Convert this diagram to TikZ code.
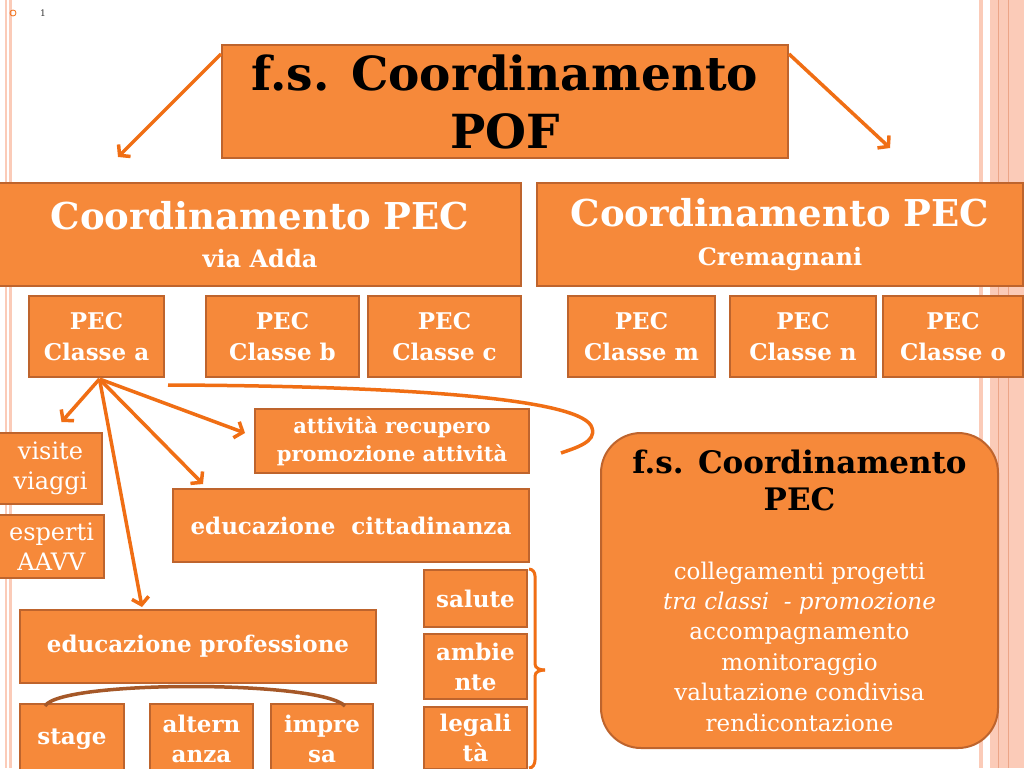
\documentclass[tikz,border=0pt]{standalone}
\usepackage{fontspec}
\setmainfont{DejaVu Serif}
\usetikzlibrary{arrows.meta,calc}
\definecolor{boxfill}{RGB}{246,137,58}
\definecolor{boxline}{RGB}{190,100,45}
\definecolor{arrc}{RGB}{240,110,20}
\definecolor{brownc}{RGB}{165,88,40}
\definecolor{salmon}{RGB}{251,203,184}
\definecolor{salmondk}{RGB}{236,165,135}
\tikzset{
  box/.style={draw=boxline, fill=boxfill, line width=2pt, inner sep=0pt, align=center, text=white, anchor=north west},
  arr/.style={draw=arrc, line width=3.5pt, -{Straight Barb[length=7pt,width=17pt]}},
  curv/.style={draw=arrc, line width=3.5pt},
  brownarc/.style={draw=brownc, line width=3.5pt},
  pecT/.style={font=\bfseries\fontsize{23}{31}\selectfont},
  attB/.style={font=\bfseries\fontsize{21}{28}\selectfont},
  midB/.style={font=\bfseries\fontsize{23}{30}\selectfont},
  midR/.style={font=\fontsize{24}{30}\selectfont},
}
\begin{document}
\begin{tikzpicture}[x=1pt,y=-1pt]
\useasboundingbox (0,0) rectangle (1024,768);
\fill[white] (0,0) rectangle (1024,768);
% decorative stripes
\fill[salmon] (5,0) rectangle (7,768);
\fill[salmon] (9,0) rectangle (11.5,768);
\fill[salmon] (979,0) rectangle (983,768);
\fill[salmon] (990,0) rectangle (1024,768);
\draw[salmondk, line width=1pt] (998,0) -- (998,768);
\draw[salmondk, line width=1pt] (1008,0) -- (1008,768);
\node[circle, draw=arrc, line width=0.8pt, minimum size=6pt, inner sep=0pt] (bul) at (13,13) {};
\node[font=\fontsize{9}{10}\selectfont, text=black!80] (num) at (43,13) {1};

% top
\node[box, minimum width=566pt, minimum height=113pt, text=black, font=\bfseries\fontsize{47}{58}\selectfont] (top) at (221,44) {f.s. Coordinamento\\POF};

% level 2
\node[box, minimum width=522pt, minimum height=103pt, font=\bfseries\fontsize{24}{30}\selectfont] (l2a) at (-2,182) {{\fontsize{37}{44}\selectfont Coordinamento PEC}\\[8pt]via Adda};
\node[box, minimum width=486pt, minimum height=103pt, font=\bfseries\fontsize{24}{30}\selectfont] (l2b) at (536,182) {{\fontsize{37}{44}\selectfont Coordinamento PEC}\\[9pt]Cremagnani};

% PEC classes
\node[box, pecT, minimum width=135pt, minimum height=81pt] (pa) at (28,295) {PEC\\Classe a};
\node[box, pecT, minimum width=153pt, minimum height=81pt] (pb) at (205,295) {PEC\\Classe b};
\node[box, pecT, minimum width=153pt, minimum height=81pt] (pc) at (367,295) {PEC\\Classe c};
\node[box, pecT, minimum width=147pt, minimum height=81pt] (pm) at (567,295) {PEC\\Classe m};
\node[box, pecT, minimum width=146pt, minimum height=81pt] (pn) at (729,295) {PEC\\Classe n};
\node[box, pecT, minimum width=140pt, minimum height=81pt] (po) at (882,295) {PEC\\Classe o};

% activities
\node[box, attB, minimum width=274pt, minimum height=64pt] (att) at (254,408) {attività recupero\\promozione attività};
\node[box, midR, minimum width=103pt, minimum height=71pt] (vis) at (-2,432) {visite\\viaggi};
\node[box, midR, minimum width=105pt, minimum height=63pt] (esp) at (-2,514) {esperti\\AAVV};
\node[box, midB, minimum width=356pt, minimum height=73pt] (cit) at (172,488) {educazione\ \ cittadinanza};
\node[box, midB, minimum width=356pt, minimum height=73pt] (prof) at (19,609) {educazione professione};
\node[box, midB, minimum width=104pt, minimum height=70pt] (stage) at (19,703) {stage};
\node[box, midB, minimum width=103pt, minimum height=70pt] (alt) at (149,703) {altern\\anza};
\node[box, midB, minimum width=102pt, minimum height=70pt] (imp) at (270,703) {impre\\sa};
\node[box, midB, minimum width=103pt, minimum height=57pt] (sal) at (423,569) {salute};
\node[box, midB, minimum width=103pt, minimum height=65pt] (amb) at (423,633) {ambie\\nte};
\node[box, midB, minimum width=103pt, minimum height=62pt] (leg) at (423,706) {legali\\tà};

% right rounded box
\node[box, rounded corners=40pt, minimum width=397pt, minimum height=315pt, text=white, font=\fontsize{23}{30.4}\selectfont] (fs) at (600,432) {{\bfseries\fontsize{31}{37}\selectfont\color{black}f.s. Coordinamento}\\[7pt]{\bfseries\fontsize{31}{37}\selectfont\color{black}PEC}\\[38pt]collegamenti progetti\\{\itshape tra classi\ \ - promozione}\\accompagnamento\\monitoraggio\\valutazione condivisa\\rendicontazione};

% connectors
\coordinate (tl) at (118,157);
\coordinate (tr) at (890,148);
\draw[arr] ($(top.north west)+(0,10)$) -- (tl);
\draw[arr] ($(top.north east)+(0,10)$) -- (tr);

\coordinate (o) at ($(pa.south)+(3,1)$);
\draw[arr] (o) -- ($(vis.north)+(11,-10)$);
\draw[arr] (o) -- ($(att.west)+(-9,-8)$);
\draw[arr] (o) -- ($(cit.north west)+(31,-4)$);
\draw[arr] (o) -- ($(prof.north west)+(123,-2)$);

\draw[curv] ($(pa.south east)+(3,7)$) .. controls (420,386) and (585,400) .. (592,428)
   .. controls (597,442) and (575,448) .. ($(att.east)+(31,12)$);

\draw[brownarc] ($(stage.north)+(-27,3)$) .. controls (60,680) and (320,680) .. ($(imp.north)+(23,3)$);

% bracket
\coordinate (bt) at ($(sal.north east)+(1,0)$);
\coordinate (bb) at ($(leg.north east)+(1,62)$);
\draw[curv, line width=3pt] (bt) to[out=0,in=90] (535,576) -- (535,664) to[out=-90,in=180] (545,670);
\draw[curv, line width=3pt] (545,670) to[out=180,in=90] (535,676) -- (535,760) to[out=-90,in=0] (bb);
\end{tikzpicture}
\end{document}
